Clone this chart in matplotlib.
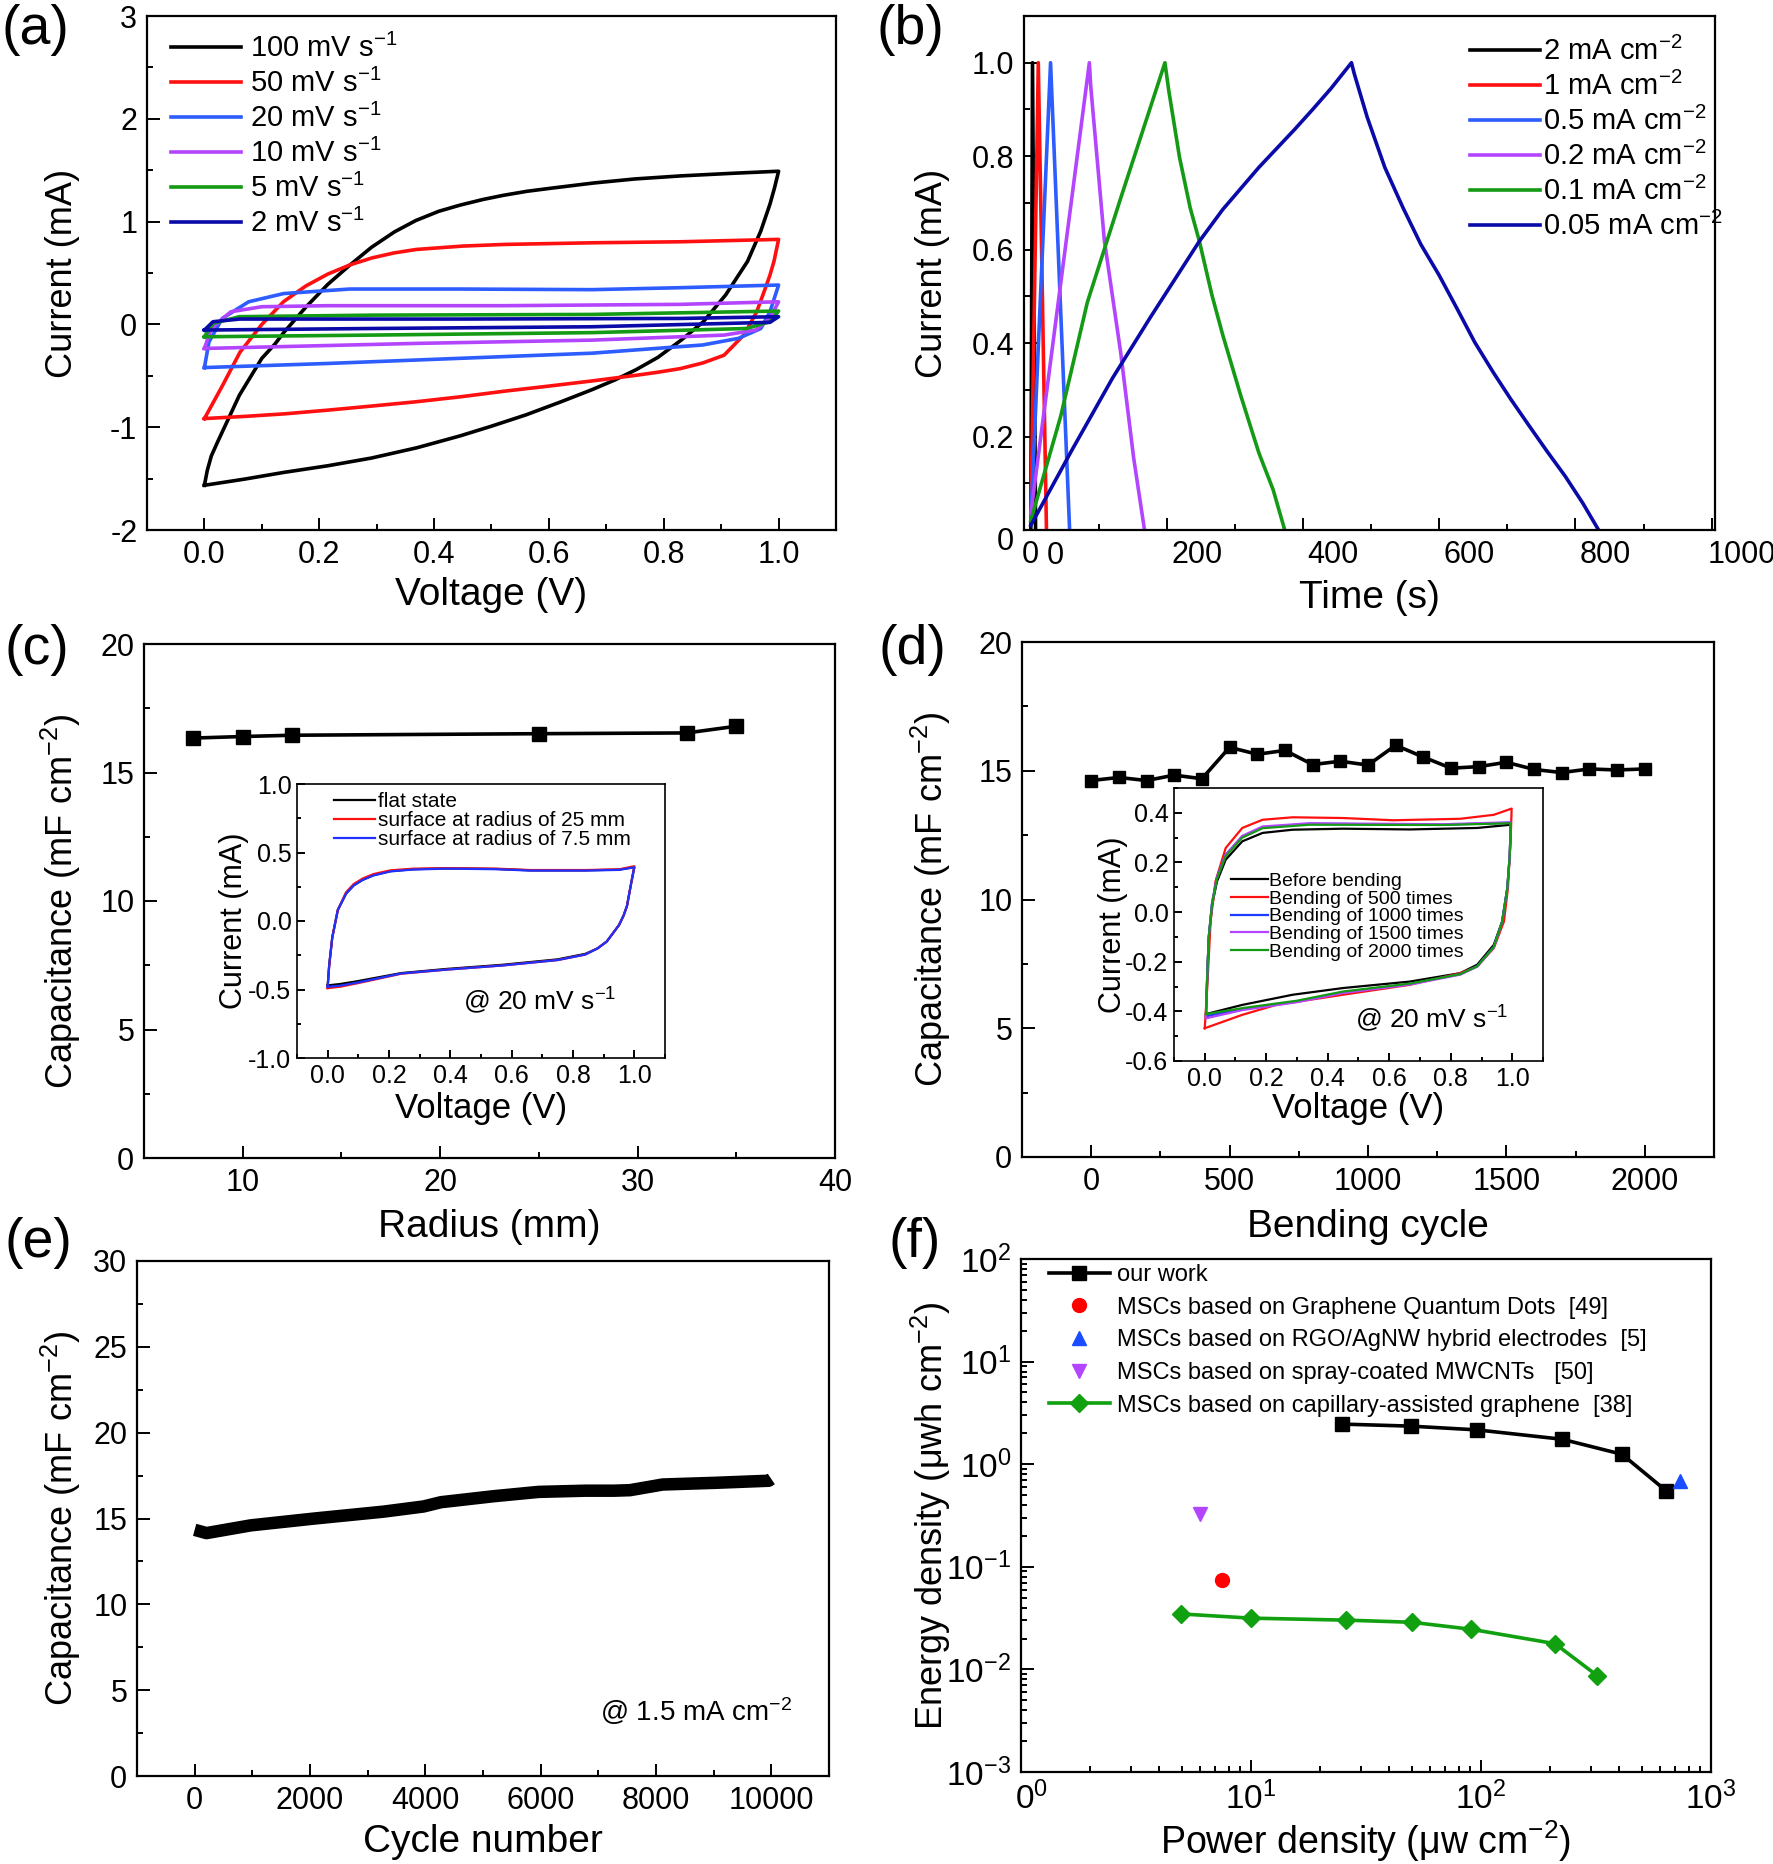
import matplotlib
matplotlib.use("Agg")
import matplotlib.pyplot as plt
from matplotlib import font_manager
from matplotlib.ticker import MultipleLocator, FixedLocator, FixedFormatter, NullFormatter, LogLocator
from matplotlib.transforms import ScaledTranslation

# ---------------- fonts ----------------
_names = {f.name for f in font_manager.fontManager.ttflist}
NARROW = "Liberation Sans Narrow" if "Liberation Sans Narrow" in _names else "Liberation Sans"
WIDE = "Liberation Sans"

plt.rcParams["font.family"] = [WIDE, "DejaVu Sans"]
plt.rcParams["mathtext.fontset"] = "custom"
plt.rcParams["mathtext.rm"] = NARROW
plt.rcParams["mathtext.it"] = NARROW + ":italic"
plt.rcParams["mathtext.bf"] = NARROW + ":bold"
plt.rcParams["axes.unicode_minus"] = False
plt.rcParams["lines.solid_joinstyle"] = "round"

# ---------------- data ----------------
# (a) CV loops, forward sweep then reverse sweep (V, mA)
cv_labels = ["100 mV s$^{-1}$", "50 mV s$^{-1}$", "20 mV s$^{-1}$",
             "10 mV s$^{-1}$", "5 mV s$^{-1}$", "2 mV s$^{-1}$"]
cv100_v = [0, 0.005, 0.012, 0.023, 0.061, 0.1, 0.123, 0.138, 0.177, 0.215, 0.254, 0.291, 0.331, 0.368,
           0.408, 0.445, 0.485, 0.52, 0.562, 0.604, 0.677, 0.75, 0.831, 0.92, 1.0,
           0.993, 0.985, 0.969, 0.946, 0.908, 0.869, 0.831, 0.79, 0.752, 0.715, 0.675, 0.62, 0.56,
           0.5, 0.445, 0.37, 0.291, 0.215, 0.138, 0.07, 0.0]
cv100_i = [-1.565, -1.42, -1.28, -1.143, -0.688, -0.33, -0.19, -0.08, 0.17, 0.39, 0.58, 0.75, 0.9, 1.01,
           1.10, 1.16, 1.215, 1.255, 1.295, 1.325, 1.375, 1.415, 1.445, 1.47, 1.49,
           1.33, 1.17, 0.908, 0.614, 0.288, 0.026, -0.15, -0.32, -0.44, -0.54, -0.635, -0.755, -0.88,
           -0.99, -1.085, -1.2, -1.30, -1.375, -1.44, -1.505, -1.565]
cv50_v = [0, 0.031, 0.062, 0.1, 0.138, 0.177, 0.215, 0.254, 0.292, 0.33, 0.369, 0.45, 0.523, 0.677, 0.831, 1.0,
          0.996, 0.992, 0.985, 0.977, 0.962, 0.94, 0.905, 0.868, 0.829, 0.79, 0.752, 0.675, 0.6, 0.522,
          0.445, 0.368, 0.29, 0.215, 0.14, 0.07, 0.0]
cv50_i = [-0.916, -0.6, -0.27, 0.0, 0.222, 0.375, 0.49, 0.58, 0.647, 0.695, 0.729, 0.762, 0.778, 0.794, 0.804, 0.827,
          0.72, 0.614, 0.48, 0.353, 0.124, -0.1, -0.3, -0.375, -0.43, -0.465, -0.495, -0.55, -0.6, -0.65,
          -0.705, -0.753, -0.795, -0.834, -0.87, -0.895, -0.916]
cv20_v = [0, 0.008, 0.031, 0.077, 0.138, 0.253, 0.445, 0.675, 0.829, 1.0,
          0.985, 0.969, 0.93, 0.868, 0.675, 0.445, 0.215, 0.0]
cv20_i = [-0.42, -0.17, 0.058, 0.22, 0.30, 0.344, 0.344, 0.338, 0.357, 0.383,
          0.123, -0.04, -0.136, -0.2, -0.28, -0.33, -0.38, -0.42]
cv10_v = [0, 0.012, 0.046, 0.1, 0.215, 0.52, 0.829, 1.0,
          0.985, 0.96, 0.905, 0.675, 0.368, 0.0]
cv10_i = [-0.234, -0.04, 0.123, 0.172, 0.182, 0.182, 0.195, 0.22,
          0.058, -0.055, -0.104, -0.153, -0.185, -0.234]
cv5_v = [0, 0.015, 0.061, 0.291, 0.675, 1.0, 0.985, 0.944, 0.675, 0.291, 0.0]
cv5_i = [-0.12, 0.01, 0.075, 0.09, 0.097, 0.13, 0.026, -0.04, -0.08, -0.104, -0.12]
cv2_v = [0, 0.015, 0.061, 0.445, 0.829, 1.0, 0.985, 0.675, 0.291, 0.0]
cv2_i = [-0.055, 0.026, 0.052, 0.052, 0.058, 0.075, 0.02, -0.023, -0.04, -0.055]

# (b) charge / discharge curves (s, mA)
gcd_labels = ["2 mA cm$^{-2}$", "1 mA cm$^{-2}$", "0.5 mA cm$^{-2}$",
              "0.2 mA cm$^{-2}$", "0.1 mA cm$^{-2}$", "0.05 mA cm$^{-2}$"]
gcd2_t = [0, 2.5, 7]
gcd2_v = [0.0, 1.0, 0.0]
gcd1_t = [0, 11, 23]
gcd1_v = [0.02, 1.0, 0.0]
gcd05_t = [0, 29, 57]
gcd05_v = [0.02, 1.0, 0.0]
gcd02_t = [0, 86, 88, 108, 132, 151, 167]
gcd02_v = [0.035, 1.0, 0.95, 0.62, 0.38, 0.155, 0.0]
gcd01_t = [0, 44, 83, 132, 176, 197, 202.6, 218.5, 234, 247.6, 266, 282, 308.5, 335, 356, 373]
gcd01_v = [0.02, 0.244, 0.487, 0.71, 0.906, 1.0, 0.941, 0.797, 0.69, 0.618, 0.503, 0.417, 0.287, 0.165, 0.086, 0.0]
gcd005_t = [0, 60, 120, 176, 247.6, 282, 335, 388, 414, 441, 471,
            475, 494, 520, 546.6, 573, 599.5, 626, 652, 679, 705, 732, 758, 785, 811, 834]
gcd005_v = [0.01, 0.17, 0.325, 0.456, 0.618, 0.686, 0.776, 0.858, 0.9, 0.945, 1.0,
            0.977, 0.884, 0.776, 0.69, 0.611, 0.546, 0.474, 0.402, 0.338, 0.28, 0.223, 0.169, 0.115, 0.057, 0.0]

# (c) capacitance vs bending radius
radius = [7.5, 10, 12.5, 25, 32.5, 35]
cap_radius = [16.34, 16.40, 16.45, 16.51, 16.54, 16.80]
# (c) inset CV loops
bend_labels_c = ["flat state", "surface at radius of 25 mm", "surface at radius of 7.5 mm"]
flat_v = [0, 0.005, 0.015, 0.033, 0.06, 0.085, 0.114, 0.15, 0.205, 0.28, 0.387, 0.55, 0.66, 0.84, 0.95, 1.0,
          0.99, 0.976, 0.965, 0.95, 0.93, 0.91, 0.88, 0.84, 0.75, 0.568, 0.387, 0.24, 0.096, 0.04, 0.0]
flat_i = [-0.47, -0.32, -0.12, 0.08, 0.2, 0.26, 0.3, 0.335, 0.364, 0.378, 0.384, 0.38, 0.37, 0.37, 0.375, 0.393,
          0.28, 0.11, 0.04, -0.03, -0.09, -0.15, -0.2, -0.24, -0.28, -0.32, -0.35, -0.38, -0.44, -0.46, -0.47]
r25_v = [0, 0.005, 0.015, 0.033, 0.06, 0.085, 0.114, 0.15, 0.205, 0.28, 0.387, 0.55, 0.66, 0.84, 0.95, 1.0,
         0.99, 0.976, 0.965, 0.95, 0.93, 0.91, 0.88, 0.84, 0.75, 0.568, 0.387, 0.24, 0.096, 0.04, 0.0]
r25_i = [-0.49, -0.33, -0.12, 0.08, 0.21, 0.27, 0.31, 0.343, 0.37, 0.382, 0.386, 0.382, 0.372, 0.372, 0.377, 0.40,
         0.28, 0.11, 0.04, -0.03, -0.09, -0.15, -0.2, -0.245, -0.285, -0.325, -0.355, -0.385, -0.455, -0.48, -0.49]
r75_v = [0, 0.005, 0.015, 0.033, 0.06, 0.085, 0.114, 0.15, 0.205, 0.28, 0.387, 0.55, 0.66, 0.84, 0.95, 1.0,
         0.99, 0.976, 0.965, 0.95, 0.93, 0.91, 0.88, 0.84, 0.75, 0.568, 0.387, 0.24, 0.096, 0.04, 0.0]
r75_i = [-0.48, -0.32, -0.12, 0.08, 0.2, 0.26, 0.3, 0.333, 0.362, 0.376, 0.382, 0.378, 0.368, 0.368, 0.373, 0.392,
         0.28, 0.11, 0.04, -0.03, -0.09, -0.15, -0.2, -0.245, -0.285, -0.325, -0.355, -0.383, -0.45, -0.472, -0.48]

# (d) capacitance vs bending cycle
bend_cycle = [0, 100, 200, 300, 400, 500, 600, 700, 800, 900, 1000,
              1100, 1200, 1300, 1400, 1500, 1600, 1700, 1800, 1900, 2000]
cap_bend = [14.62, 14.74, 14.62, 14.83, 14.69, 15.91, 15.64, 15.79, 15.24, 15.37, 15.22,
            15.99, 15.53, 15.10, 15.16, 15.33, 15.05, 14.93, 15.07, 15.03, 15.07]
# (d) inset CV loops
bend_labels_d = ["Before bending", "Bending of 500 times", "Bending of 1000 times",
                 "Bending of 1500 times", "Bending of 2000 times"]
b0_v = [0.004, 0.008, 0.013, 0.024, 0.04, 0.068, 0.122, 0.188, 0.286, 0.45, 0.667, 0.886, 0.995,
        0.992, 0.984, 0.967, 0.94, 0.886, 0.831, 0.667, 0.45, 0.286, 0.122, 0.004]
b0_i = [-0.414, -0.253, -0.105, 0.03, 0.124, 0.211, 0.285, 0.319, 0.332, 0.336, 0.333, 0.339, 0.352,
        0.231, 0.097, -0.038, -0.132, -0.212, -0.246, -0.28, -0.306, -0.333, -0.374, -0.411]
b500_v = [0.0, 0.008, 0.019, 0.035, 0.068, 0.122, 0.188, 0.286, 0.45, 0.613, 0.831, 0.94, 0.998,
          0.995, 0.986, 0.973, 0.94, 0.886, 0.831, 0.667, 0.45, 0.232, 0.122, 0.0]
b500_i = [-0.468, -0.306, -0.038, 0.124, 0.258, 0.339, 0.372, 0.382, 0.379, 0.37, 0.376, 0.392, 0.417,
          0.298, 0.097, -0.038, -0.145, -0.219, -0.246, -0.293, -0.333, -0.374, -0.414, -0.468]
b1000_v = [0.004, 0.008, 0.013, 0.024, 0.04, 0.068, 0.122, 0.188, 0.34, 0.776, 0.995,
           0.992, 0.984, 0.967, 0.94, 0.886, 0.831, 0.667, 0.45, 0.3, 0.122, 0.004]
b1000_i = [-0.42, -0.26, -0.1, 0.04, 0.14, 0.231, 0.305, 0.341, 0.356, 0.352, 0.36,
           0.231, 0.097, -0.04, -0.14, -0.218, -0.25, -0.29, -0.323, -0.36, -0.39, -0.42]
b1500_v = [0.004, 0.008, 0.013, 0.024, 0.04, 0.068, 0.122, 0.188, 0.34, 0.776, 0.995,
           0.992, 0.984, 0.967, 0.94, 0.886, 0.831, 0.667, 0.45, 0.3, 0.122, 0.004]
b1500_i = [-0.428, -0.26, -0.1, 0.04, 0.14, 0.231, 0.307, 0.345, 0.358, 0.354, 0.362,
           0.231, 0.097, -0.04, -0.142, -0.22, -0.252, -0.292, -0.326, -0.363, -0.395, -0.428]
b2000_v = [0.004, 0.008, 0.013, 0.024, 0.04, 0.068, 0.122, 0.188, 0.34, 0.776, 0.995,
           0.992, 0.984, 0.967, 0.94, 0.886, 0.831, 0.667, 0.45, 0.3, 0.122, 0.004]
b2000_i = [-0.411, -0.26, -0.1, 0.035, 0.135, 0.225, 0.3, 0.338, 0.352, 0.351, 0.358,
           0.231, 0.097, -0.04, -0.14, -0.218, -0.25, -0.288, -0.32, -0.357, -0.387, -0.411]

# (e) cycling stability
cycle_n = [0, 205, 972, 2080, 3276, 3968, 4272, 5190, 5965, 6780, 7270, 7550, 8115, 9040, 9956, 10000]
cap_cycle = [14.34, 14.15, 14.6, 15.0, 15.4, 15.7, 15.95, 16.3, 16.55, 16.62, 16.62, 16.65, 16.98,
             17.08, 17.2, 17.3]

# (f) Ragone plot
ours_p = [24.9, 49.4, 96.2, 225.6, 410, 640]
ours_e = [2.46, 2.35, 2.16, 1.75, 1.25, 0.548]
gqd_p, gqd_e = [7.47], [0.0742]
rgo_p, rgo_e = [731], [0.692]
mwcnt_p, mwcnt_e = [6.0], [0.33]
cap_p = [4.98, 9.98, 26.0, 50.0, 90.8, 210, 321]
cap_e = [0.0347, 0.0316, 0.0302, 0.0288, 0.0246, 0.0178, 0.00865]
rag_labels = ["our work", "MSCs based on Graphene Quantum Dots  [49]",
              "MSCs based on RGO/AgNW hybrid electrodes  [5]",
              "MSCs based on spray-coated MWCNTs   [50]",
              "MSCs based on capillary-assisted graphene  [38]"]

# ---------------- style ----------------
W, H = 1774, 1864
BLK, RED, BLU, PUR, GRN, NAV = "black", "#ff1010", "#2d5cff", "#b445ff", "#149a14", "#0a0aa8"
TICK = 22


def box(l, t, r, b):
    return [l / W, 1 - b / H, (r - l) / W, (b - t) / H]


def style(ax, size=TICK, major=9, minor=4.5):
    for s in ax.spines.values():
        s.set_linewidth(1.6)
    ax.tick_params(which="both", direction="in", top=False, right=False, width=1.4,
                   labelsize=size, labelfontfamily=NARROW)
    ax.tick_params(which="major", length=major, pad=7)
    ax.tick_params(which="minor", length=minor)


def labels(ax, xl, yl, xpos, ypos, xs=28, ys=26):
    ax.set_xlabel(xl, fontsize=xs, family=NARROW)
    ax.set_ylabel(yl, fontsize=ys, family=WIDE)
    ax.xaxis.set_label_coords(0.5, xpos)
    ax.yaxis.set_label_coords(ypos, 0.5)


fig = plt.figure(figsize=(W / 100, H / 100), dpi=100)
for txt, x, y in [("(a)", 35, 30), ("(b)", 910, 30), ("(c)", 37, 650),
                  ("(d)", 912, 650), ("(e)", 38, 1243), ("(f)", 915, 1243)]:
    fig.text(x / W, 1 - y / H, txt, fontsize=40, ha="center", va="center", family=WIDE)

# ---- (a) ----
ax = fig.add_axes(box(147, 16, 836, 530))
for v, i, c, lab in [(cv100_v, cv100_i, BLK, cv_labels[0]), (cv50_v, cv50_i, RED, cv_labels[1]),
                     (cv20_v, cv20_i, BLU, cv_labels[2]), (cv10_v, cv10_i, PUR, cv_labels[3]),
                     (cv5_v, cv5_i, GRN, cv_labels[4]), (cv2_v, cv2_i, NAV, cv_labels[5])]:
    ax.plot(v, i, color=c, lw=2.6, label=lab)
ax.set_xlim(-0.1, 1.1)
ax.set_ylim(-2, 3)
ax.xaxis.set_major_locator(MultipleLocator(0.2))
ax.xaxis.set_minor_locator(MultipleLocator(0.1))
ax.yaxis.set_major_locator(MultipleLocator(1))
ax.yaxis.set_minor_locator(MultipleLocator(0.5))
style(ax)
labels(ax, "Voltage (V)", "Current (mA)", -0.092, -0.097)
ax.legend(loc="upper left", bbox_to_anchor=(0.035, 0.965), frameon=False, borderpad=0,
          borderaxespad=0, handlelength=2.4, handletextpad=0.3, labelspacing=0.2,
          prop={"family": NARROW, "size": 21})

# ---- (b) ----
ax = fig.add_axes(box(1024, 16, 1715, 530))
for t, v, c, lab in [(gcd2_t, gcd2_v, BLK, gcd_labels[0]), (gcd1_t, gcd1_v, RED, gcd_labels[1]),
                     (gcd05_t, gcd05_v, BLU, gcd_labels[2]), (gcd02_t, gcd02_v, PUR, gcd_labels[3]),
                     (gcd01_t, gcd01_v, GRN, gcd_labels[4]), (gcd005_t, gcd005_v, NAV, gcd_labels[5])]:
    ax.plot(t, v, color=c, lw=2.6, label=lab)
ax.set_xlim(-10, 1005)
ax.set_ylim(0, 1.1)
ax.xaxis.set_major_locator(FixedLocator([0, 200, 400, 600, 800, 1000]))
ax.xaxis.set_major_formatter(FixedFormatter(["0", "200", "400", "600", "800", "1000"]))
ax.xaxis.set_minor_locator(MultipleLocator(100))
ax.yaxis.set_major_locator(FixedLocator([0, 0.2, 0.4, 0.6, 0.8, 1.0]))
ax.yaxis.set_major_formatter(FixedFormatter(["0", "0.2", "0.4", "0.6", "0.8", "1.0"]))
ax.yaxis.set_minor_locator(MultipleLocator(0.1))
style(ax)
labels(ax, "Time (s)", "Current (mA)", -0.097, -0.107)
fig.canvas.draw()
sh = ScaledTranslation(0.3, 0, fig.dpi_scale_trans)
for lab in ax.get_xticklabels()[1:]:
    lab.set_transform(lab.get_transform() + sh)
ax.get_yticklabels()[0].set_transform(ax.get_yticklabels()[0].get_transform()
                                      + ScaledTranslation(0, -0.09, fig.dpi_scale_trans))
fig.text(1055 / W, 1 - 556 / H, "0", fontsize=TICK, family=NARROW, ha="center", va="center")
ax.legend(loc="upper left", bbox_to_anchor=(0.645, 0.96), frameon=False, borderpad=0,
          borderaxespad=0, handlelength=2.4, handletextpad=0.1, labelspacing=0.2,
          prop={"family": NARROW, "size": 21})

# ---- (c) ----
ax = fig.add_axes(box(144, 644, 835, 1158))
ax.plot(radius, cap_radius, color=BLK, lw=2.6, marker="s", ms=10)
ax.set_xlim(5, 40)
ax.set_ylim(0, 20)
ax.xaxis.set_major_locator(MultipleLocator(10))
ax.xaxis.set_minor_locator(MultipleLocator(5))
ax.yaxis.set_major_locator(MultipleLocator(5))
ax.yaxis.set_minor_locator(MultipleLocator(2.5))
style(ax)
labels(ax, "Radius (mm)", "Capacitance (mF cm$^{-2}$)", -0.099, -0.088)

axi = fig.add_axes(box(297, 784, 665, 1058))
for v, i, c, lab in [(flat_v, flat_i, BLK, bend_labels_c[0]), (r25_v, r25_i, RED, bend_labels_c[1]),
                     (r75_v, r75_i, "#2030ff", bend_labels_c[2])]:
    axi.plot(v, i, color=c, lw=1.6, label=lab)
axi.set_xlim(-0.1, 1.1)
axi.set_ylim(-1, 1)
axi.xaxis.set_major_locator(MultipleLocator(0.2))
axi.xaxis.set_minor_locator(MultipleLocator(0.1))
axi.yaxis.set_major_locator(MultipleLocator(0.5))
axi.yaxis.set_minor_locator(MultipleLocator(0.25))
style(axi, size=18, major=6, minor=3)
for s in axi.spines.values():
    s.set_linewidth(1.2)
axi.tick_params(which="major", pad=4)
labels(axi, "Voltage (V)", "Current (mA)", -0.125, -0.13, xs=25, ys=22)
axi.legend(loc="upper left", bbox_to_anchor=(0.1, 0.97), frameon=False, borderpad=0,
           borderaxespad=0, handlelength=2.0, handletextpad=0.1, labelspacing=0.0,
           prop={"family": NARROW, "size": 15})
axi.text(0.867, 0.208, "@ 20 mV s$^{-1}$", transform=axi.transAxes, ha="right", va="center",
         fontsize=19, family=NARROW)

# ---- (d) ----
ax = fig.add_axes(box(1022, 642, 1714, 1157))
ax.plot(bend_cycle, cap_bend, color=BLK, lw=2.6, marker="s", ms=9)
ax.set_xlim(-250, 2250)
ax.set_ylim(0, 20)
ax.xaxis.set_major_locator(MultipleLocator(500))
ax.xaxis.set_minor_locator(MultipleLocator(250))
ax.yaxis.set_major_locator(MultipleLocator(5))
ax.yaxis.set_minor_locator(MultipleLocator(2.5))
style(ax)
labels(ax, "Bending cycle", "Capacitance (mF cm$^{-2}$)", -0.101, -0.10)

axi = fig.add_axes(box(1174, 788, 1543, 1061))
for v, i, c, lab in [(b0_v, b0_i, BLK, bend_labels_d[0]), (b500_v, b500_i, RED, bend_labels_d[1]),
                     (b1000_v, b1000_i, "#1a3dff", bend_labels_d[2]), (b1500_v, b1500_i, PUR, bend_labels_d[3]),
                     (b2000_v, b2000_i, GRN, bend_labels_d[4])]:
    axi.plot(v, i, color=c, lw=1.6, label=lab)
axi.set_xlim(-0.1, 1.1)
axi.set_ylim(-0.6, 0.5)
axi.xaxis.set_major_locator(MultipleLocator(0.2))
axi.xaxis.set_minor_locator(MultipleLocator(0.1))
axi.yaxis.set_major_locator(MultipleLocator(0.2))
axi.yaxis.set_minor_locator(MultipleLocator(0.1))
style(axi, size=18, major=6, minor=3)
for s in axi.spines.values():
    s.set_linewidth(1.2)
axi.tick_params(which="major", pad=4)
labels(axi, "Voltage (V)", "Current (mA)", -0.115, -0.125, xs=25, ys=22)
axi.legend(loc="upper left", bbox_to_anchor=(0.155, 0.69), frameon=False, borderpad=0,
           borderaxespad=0, handlelength=1.9, handletextpad=0.05, labelspacing=0.0,
           prop={"family": WIDE, "size": 14})
axi.text(0.905, 0.154, "@ 20 mV s$^{-1}$", transform=axi.transAxes, ha="right", va="center",
         fontsize=19, family=NARROW)

# ---- (e) ----
ax = fig.add_axes(box(137, 1261, 829, 1776))
ax.plot(cycle_n, cap_cycle, color=BLK, lw=9, solid_capstyle="butt")
ax.set_xlim(-1000, 11000)
ax.set_ylim(0, 30)
ax.xaxis.set_major_locator(MultipleLocator(2000))
ax.xaxis.set_minor_locator(MultipleLocator(1000))
ax.yaxis.set_major_locator(MultipleLocator(5))
ax.yaxis.set_minor_locator(MultipleLocator(2.5))
style(ax)
labels(ax, "Cycle number", "Capacitance (mF cm$^{-2}$)", -0.094, -0.078)
ax.text(10350, 3.8, "@ 1.5 mA cm$^{-2}$", ha="right", va="center", fontsize=20, family=NARROW)

# ---- (f) ----
ax = fig.add_axes(box(1021, 1259, 1711, 1772))
ax.set_xscale("log")
ax.set_yscale("log")
ax.plot(ours_p, ours_e, color=BLK, lw=2.6, marker="s", ms=10, label=rag_labels[0])
ax.plot(gqd_p, gqd_e, ls="none", marker="o", ms=10, color="#ff0000", label=rag_labels[1])
ax.plot(rgo_p, rgo_e, ls="none", marker="^", ms=10, color="#1a4dff", label=rag_labels[2])
ax.plot(mwcnt_p, mwcnt_e, ls="none", marker="v", ms=10, color=PUR, label=rag_labels[3])
ax.plot(cap_p, cap_e, color="#10a010", lw=2.6, marker="D", ms=9, label=rag_labels[4])
ax.set_xlim(1, 1000)
ax.set_ylim(1e-3, 1e2)
ax.xaxis.set_major_locator(FixedLocator([1, 10, 100, 1000]))
ax.xaxis.set_major_formatter(FixedFormatter(["$0^0$", "$10^1$", "$10^2$", "$10^3$"]))
ax.xaxis.set_minor_locator(LogLocator(base=10, subs=range(2, 10)))
ax.xaxis.set_minor_formatter(NullFormatter())
ax.yaxis.set_major_locator(FixedLocator([1e-3, 1e-2, 1e-1, 1, 10, 100]))
ax.yaxis.set_major_formatter(FixedFormatter(["$10^{-3}$", "$10^{-2}$", "$10^{-1}$",
                                             "$10^0$", "$10^1$", "$10^2$"]))
ax.yaxis.set_minor_locator(LogLocator(base=10, subs=range(2, 10)))
ax.yaxis.set_minor_formatter(NullFormatter())
style(ax, size=24)
labels(ax, "Power density (\u03bcw cm$^{-2}$)", "Energy density (\u03bcwh cm$^{-2}$)", -0.091, -0.099,
       xs=27)
fig.canvas.draw()
first = ax.get_xticklabels()[0]
first.set_transform(first.get_transform() + ScaledTranslation(0.11, 0, fig.dpi_scale_trans))
ax.legend(loc="upper left", bbox_to_anchor=(0.04, 0.99), frameon=False, borderpad=0,
          borderaxespad=0, handlelength=2.6, handletextpad=0.3, labelspacing=0.45,
          prop={"family": NARROW, "size": 17})

fig.savefig("out.png", dpi=100)
